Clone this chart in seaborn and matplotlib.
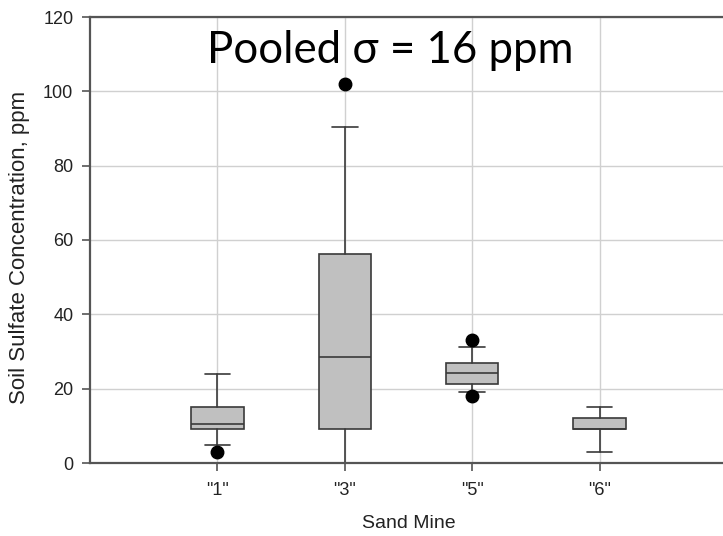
import numpy as np
import matplotlib
matplotlib.use("Agg")
import matplotlib.pyplot as plt
import seaborn as sns

# box statistics (ppm)
mines     = ['"1"', '"3"', '"5"', '"6"']
whislo    = [4.8, 0.0, 19.0, 3.0]
q1        = [9.1, 9.1, 21.2, 9.1]
medians   = [10.6, 28.6, 24.1, 9.1]
q3        = [15.1, 56.2, 27.0, 12.0]
whishi    = [24.0, 90.4, 31.3, 15.1]
outliers  = [[3.0], [102.0], [33.1, 18.1], []]

sns.set_style("whitegrid")
plt.rcParams["font.family"] = ["Liberation Sans", "DejaVu Sans"]

fig = plt.figure(figsize=(7.23, 5.36), dpi=100)
ax = fig.add_axes([90 / 723, 73 / 536, 637 / 723, 446 / 536])

stats = []
for i, name in enumerate(mines):
    stats.append(dict(label=name, whislo=whislo[i], q1=q1[i], med=medians[i],
                      q3=q3[i], whishi=whishi[i], fliers=outliers[i]))

line_c = "#3a3a3a"
ax.bxp(stats, positions=np.arange(1, len(mines) + 1), widths=0.41,
       patch_artist=True, showfliers=True,
       boxprops=dict(facecolor="#c0c0c0", edgecolor=line_c, linewidth=1.2),
       medianprops=dict(color=line_c, linewidth=1.2),
       whiskerprops=dict(color=line_c, linewidth=1.2),
       capprops=dict(color=line_c, linewidth=1.2),
       capwidths=0.2,
       flierprops=dict(marker="o", markerfacecolor="black", markeredgecolor="black",
                       markersize=9))

ax.set_xlim(0, 5)
ax.set_ylim(0, 120)
ax.set_yticks(np.arange(0, 121, 20))
ax.set_xticks(np.arange(1, len(mines) + 1))
ax.set_xticklabels(mines)
ax.grid(True, color="#d0d0d0", linewidth=1)
ax.set_axisbelow(True)

for side in ["left", "bottom", "top"]:
    ax.spines[side].set_color("#555555")
    ax.spines[side].set_linewidth(1.6)
ax.spines["right"].set_visible(False)
ax.tick_params(axis="both", direction="out", length=6, width=1.2, color="#555555",
               labelsize=13, labelcolor="#222222", left=True, bottom=True)
ax.tick_params(axis="x", pad=8)
ax.tick_params(axis="y", pad=6)

ax.set_xlabel("Sand Mine", fontsize=14, color="#222222", labelpad=11)
ax.set_ylabel("Soil Sulfate Concentration, ppm", fontsize=16, color="#222222")
ax.yaxis.set_label_coords(-(90 - 30) / 637, 0.483)

ax.text(0.184, (463 - 63) / 446, "Pooled σ = 16 ppm", transform=ax.transAxes,
        fontsize=31.5, family=["Lato", "DejaVu Sans"], color="black",
        va="baseline", ha="left")

fig.savefig("out.png", dpi=100)
